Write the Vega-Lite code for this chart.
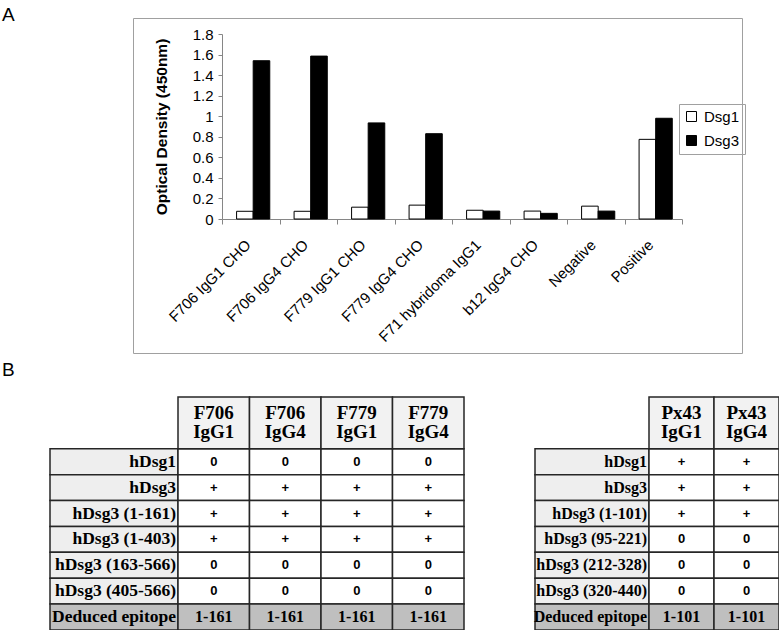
{
  "$schema": "https://vega.github.io/schema/vega-lite/v6.json",
  "background": "white",
  "padding": {"left": 1, "top": 5, "right": 0, "bottom": 0},
  "columns": 1,
  "align": "none",
  "bounds": "full",
  "spacing": 7,
  "config": {"view": {"stroke": null}, "font": "Liberation Sans"},
  "datasets": {
    "bars": [
      {"sample": "F706 IgG1 CHO", "antigen": "Dsg1", "od": 0.075},
      {"sample": "F706 IgG1 CHO", "antigen": "Dsg3", "od": 1.54},
      {"sample": "F706 IgG4 CHO", "antigen": "Dsg1", "od": 0.075},
      {"sample": "F706 IgG4 CHO", "antigen": "Dsg3", "od": 1.585},
      {"sample": "F779 IgG1 CHO", "antigen": "Dsg1", "od": 0.115},
      {"sample": "F779 IgG1 CHO", "antigen": "Dsg3", "od": 0.935},
      {"sample": "F779 IgG4 CHO", "antigen": "Dsg1", "od": 0.135},
      {"sample": "F779 IgG4 CHO", "antigen": "Dsg3", "od": 0.83},
      {"sample": "F71 hybridoma IgG1", "antigen": "Dsg1", "od": 0.085},
      {"sample": "F71 hybridoma IgG1", "antigen": "Dsg3", "od": 0.077},
      {"sample": "b12 IgG4 CHO", "antigen": "Dsg1", "od": 0.077},
      {"sample": "b12 IgG4 CHO", "antigen": "Dsg3", "od": 0.055},
      {"sample": "Negative", "antigen": "Dsg1", "od": 0.125},
      {"sample": "Negative", "antigen": "Dsg3", "od": 0.077},
      {"sample": "Positive", "antigen": "Dsg1", "od": 0.775},
      {"sample": "Positive", "antigen": "Dsg3", "od": 0.98}
    ],
    "t1rows": [
      {"tbl": "T1", "row": "hDsg1"},
      {"tbl": "T1", "row": "hDsg3"},
      {"tbl": "T1", "row": "hDsg3 (1-161)"},
      {"tbl": "T1", "row": "hDsg3 (1-403)"},
      {"tbl": "T1", "row": "hDsg3 (163-566)"},
      {"tbl": "T1", "row": "hDsg3 (405-566)"},
      {"tbl": "T1", "row": "Deduced epitope"}
    ],
    "t1head": [
      {"tbl": "T1", "col": "F706 IgG1", "ab": "F706", "iso": "IgG1"},
      {"tbl": "T1", "col": "F706 IgG4", "ab": "F706", "iso": "IgG4"},
      {"tbl": "T1", "col": "F779 IgG1", "ab": "F779", "iso": "IgG1"},
      {"tbl": "T1", "col": "F779 IgG4", "ab": "F779", "iso": "IgG4"}
    ],
    "t1body": [
      {"row": "hDsg1", "col": "F706 IgG1", "val": "0"},
      {"row": "hDsg1", "col": "F706 IgG4", "val": "0"},
      {"row": "hDsg1", "col": "F779 IgG1", "val": "0"},
      {"row": "hDsg1", "col": "F779 IgG4", "val": "0"},
      {"row": "hDsg3", "col": "F706 IgG1", "val": "+"},
      {"row": "hDsg3", "col": "F706 IgG4", "val": "+"},
      {"row": "hDsg3", "col": "F779 IgG1", "val": "+"},
      {"row": "hDsg3", "col": "F779 IgG4", "val": "+"},
      {"row": "hDsg3 (1-161)", "col": "F706 IgG1", "val": "+"},
      {"row": "hDsg3 (1-161)", "col": "F706 IgG4", "val": "+"},
      {"row": "hDsg3 (1-161)", "col": "F779 IgG1", "val": "+"},
      {"row": "hDsg3 (1-161)", "col": "F779 IgG4", "val": "+"},
      {"row": "hDsg3 (1-403)", "col": "F706 IgG1", "val": "+"},
      {"row": "hDsg3 (1-403)", "col": "F706 IgG4", "val": "+"},
      {"row": "hDsg3 (1-403)", "col": "F779 IgG1", "val": "+"},
      {"row": "hDsg3 (1-403)", "col": "F779 IgG4", "val": "+"},
      {"row": "hDsg3 (163-566)", "col": "F706 IgG1", "val": "0"},
      {"row": "hDsg3 (163-566)", "col": "F706 IgG4", "val": "0"},
      {"row": "hDsg3 (163-566)", "col": "F779 IgG1", "val": "0"},
      {"row": "hDsg3 (163-566)", "col": "F779 IgG4", "val": "0"},
      {"row": "hDsg3 (405-566)", "col": "F706 IgG1", "val": "0"},
      {"row": "hDsg3 (405-566)", "col": "F706 IgG4", "val": "0"},
      {"row": "hDsg3 (405-566)", "col": "F779 IgG1", "val": "0"},
      {"row": "hDsg3 (405-566)", "col": "F779 IgG4", "val": "0"},
      {"row": "Deduced epitope", "col": "F706 IgG1", "val": "1-161"},
      {"row": "Deduced epitope", "col": "F706 IgG4", "val": "1-161"},
      {"row": "Deduced epitope", "col": "F779 IgG1", "val": "1-161"},
      {"row": "Deduced epitope", "col": "F779 IgG4", "val": "1-161"}
    ],
    "t2rows": [
      {"tbl": "T2", "row": "hDsg1"},
      {"tbl": "T2", "row": "hDsg3"},
      {"tbl": "T2", "row": "hDsg3 (1-101)"},
      {"tbl": "T2", "row": "hDsg3 (95-221)"},
      {"tbl": "T2", "row": "hDsg3 (212-328)"},
      {"tbl": "T2", "row": "hDsg3 (320-440)"},
      {"tbl": "T2", "row": "Deduced epitope"}
    ],
    "t2head": [
      {"tbl": "T2", "col": "Px43 IgG1", "ab": "Px43", "iso": "IgG1"},
      {"tbl": "T2", "col": "Px43 IgG4", "ab": "Px43", "iso": "IgG4"}
    ],
    "t2body": [
      {"row": "hDsg1", "col": "Px43 IgG1", "val": "+"},
      {"row": "hDsg1", "col": "Px43 IgG4", "val": "+"},
      {"row": "hDsg3", "col": "Px43 IgG1", "val": "+"},
      {"row": "hDsg3", "col": "Px43 IgG4", "val": "+"},
      {"row": "hDsg3 (1-101)", "col": "Px43 IgG1", "val": "+"},
      {"row": "hDsg3 (1-101)", "col": "Px43 IgG4", "val": "+"},
      {"row": "hDsg3 (95-221)", "col": "Px43 IgG1", "val": "0"},
      {"row": "hDsg3 (95-221)", "col": "Px43 IgG4", "val": "0"},
      {"row": "hDsg3 (212-328)", "col": "Px43 IgG1", "val": "0"},
      {"row": "hDsg3 (212-328)", "col": "Px43 IgG4", "val": "0"},
      {"row": "hDsg3 (320-440)", "col": "Px43 IgG1", "val": "0"},
      {"row": "hDsg3 (320-440)", "col": "Px43 IgG4", "val": "0"},
      {"row": "Deduced epitope", "col": "Px43 IgG1", "val": "1-101"},
      {"row": "Deduced epitope", "col": "Px43 IgG4", "val": "1-101"}
    ]
  },
  "concat": [
    {
      "spacing": 0,
      "bounds": "flush",
      "hconcat": [
        {
          "width": 83, "height": 335,
          "data": {"values": []},
          "mark": {"type": "rect", "opacity": 0}
        },
        {
          "title": {"text": "A", "anchor": "start", "frame": "group", "orient": "top", "fontSize": 19, "fontWeight": "normal", "font": "Liberation Sans", "color": "black", "baseline": "alphabetic", "offset": -22, "dx": -131},
          "width": 609,
          "height": 335,
          "view": {"stroke": "#a0a0a0", "strokeWidth": 1},
          "data": {"name": "bars"},
          "mark": {"type": "bar", "stroke": "black", "strokeWidth": 1},
          "encoding": {
            "x": {
              "field": "sample", "type": "nominal",
              "sort": ["F706 IgG1 CHO", "F706 IgG4 CHO", "F779 IgG1 CHO", "F779 IgG4 CHO", "F71 hybridoma IgG1", "b12 IgG4 CHO", "Negative", "Positive"],
              "scale": {"range": [89, 549], "paddingInner": 0, "paddingOuter": 0},
              "axis": {"offset": -134, "domain": true, "domainColor": "#868686", "grid": false, "tickBand": "extent", "tickSize": 5, "tickColor": "#868686", "labelAngle": -45, "labelAlign": "right", "labelBaseline": "middle", "labelFontSize": 15, "labelFont": "Liberation Sans", "labelColor": "black", "labelPadding": 18, "labelOffset": -3, "labelOverlap": false, "labelLimit": 0, "title": null}
            },
            "xOffset": {"field": "antigen", "type": "nominal", "scale": {"paddingInner": 0, "paddingOuter": 0.732, "align": 0.6}},
            "y": {
              "field": "od", "type": "quantitative",
              "scale": {"domain": [0, 1.8], "range": [201, 16], "nice": false, "zero": false},
              "axis": {"values": [0, 0.2, 0.4, 0.6, 0.8, 1, 1.2, 1.4, 1.6, 1.8], "format": "~g", "offset": -89, "domain": true, "domainColor": "#868686", "grid": false, "tickSize": 4, "tickColor": "#868686", "labelFontSize": 15, "labelFont": "Liberation Sans", "labelColor": "black", "labelPadding": 5, "labelOverlap": false, "labelFlush": false, "title": "Optical Density (450nm)", "titleFont": "Liberation Sans", "titleFontSize": 15.5, "titleFontWeight": "bold", "titleColor": "black", "titleX": -61, "titleAngle": -90, "titleAlign": "center", "titleBaseline": "middle"}
            },
            "fill": {
              "field": "antigen", "type": "nominal",
              "scale": {"domain": ["Dsg1", "Dsg3"], "range": ["white", "black"]},
              "legend": {"title": null, "orient": "none", "legendX": 629, "legendY": 86, "direction": "vertical", "symbolType": "square", "symbolSize": 100, "symbolStrokeColor": "black", "symbolStrokeWidth": 1, "labelFontSize": 15, "labelFont": "Liberation Sans", "labelColor": "black", "strokeColor": "#a0a0a0", "padding": 5, "rowPadding": 8, "labelOffset": 5}
            }
          }
        }
      ]
    },
    {
      "title": {"text": "B", "anchor": "start", "frame": "group", "orient": "top", "fontSize": 19, "fontWeight": "normal", "font": "Liberation Sans", "color": "black", "baseline": "alphabetic", "offset": 1, "dx": -48},
      "spacing": 68,
      "hconcat": [
        {
          "spacing": 0,
          "bounds": "flush",
          "hconcat": [
            {
              "width": 128, "height": 233,
              "data": {"name": "t1rows"},
              "encoding": {
                "x": {"field": "tbl", "type": "nominal", "scale": {"paddingInner": 0, "paddingOuter": 0}, "axis": null},
                "y": {"field": "row", "type": "nominal", "sort": ["hDsg1", "hDsg3", "hDsg3 (1-161)", "hDsg3 (1-403)", "hDsg3 (163-566)", "hDsg3 (405-566)", "Deduced epitope"], "scale": {"range": [51.78, 233], "paddingInner": 0, "paddingOuter": 0}, "axis": null}
              },
              "layer": [
                {"mark": {"type": "rect", "stroke": "#262626", "strokeWidth": 1.5},
                 "encoding": {"fill": {"condition": {"test": "datum.row === 'Deduced epitope'", "value": "#bfbfbf"}, "value": "#eeeeee"}}},
                {"mark": {"type": "text", "align": "right", "baseline": "middle", "dx": -2, "font": "Liberation Serif", "fontWeight": "bold", "fontSize": 17.5, "color": "black"},
                 "encoding": {"x": {"field": "tbl", "type": "nominal", "bandPosition": 1, "axis": null}, "text": {"field": "row"}}}
              ]
            },
            {
              "width": 286, "height": 233,
              "resolve": {"scale": {"y": "independent"}},
              "layer": [
                {
                  "data": {"name": "t1body"},
                  "encoding": {
                    "x": {"field": "col", "type": "nominal", "sort": ["F706 IgG1", "F706 IgG4", "F779 IgG1", "F779 IgG4"], "scale": {"paddingInner": 0, "paddingOuter": 0}, "axis": null},
                    "y": {"field": "row", "type": "nominal", "sort": ["hDsg1", "hDsg3", "hDsg3 (1-161)", "hDsg3 (1-403)", "hDsg3 (163-566)", "hDsg3 (405-566)", "Deduced epitope"], "scale": {"range": [51.78, 233], "paddingInner": 0, "paddingOuter": 0}, "axis": null}
                  },
                  "layer": [
                    {"mark": {"type": "rect", "stroke": "#262626", "strokeWidth": 1.5},
                     "encoding": {"fill": {"condition": {"test": "datum.row === 'Deduced epitope'", "value": "#bfbfbf"}, "value": "white"}}},
                    {"transform": [{"filter": "datum.row !== 'Deduced epitope'"}],
                     "mark": {"type": "text", "font": "Liberation Sans", "fontWeight": "bold", "fontSize": 13, "baseline": "middle", "color": "black"},
                     "encoding": {"text": {"field": "val"}}},
                    {"transform": [{"filter": "datum.row === 'Deduced epitope'"}],
                     "mark": {"type": "text", "font": "Liberation Serif", "fontWeight": "bold", "fontSize": 16, "baseline": "middle", "color": "black"},
                     "encoding": {"text": {"field": "val"}}}
                  ]
                },
                {
                  "data": {"name": "t1head"},
                  "encoding": {
                    "x": {"field": "col", "type": "nominal", "sort": ["F706 IgG1", "F706 IgG4", "F779 IgG1", "F779 IgG4"], "scale": {"paddingInner": 0, "paddingOuter": 0}, "axis": null},
                    "y": {"field": "tbl", "type": "nominal", "scale": {"range": [0, 51.78], "paddingInner": 0, "paddingOuter": 0}, "axis": null}
                  },
                  "layer": [
                    {"mark": {"type": "rect", "stroke": "#262626", "strokeWidth": 1.5, "fill": "#f2f2f2"}},
                    {"mark": {"type": "text", "font": "Liberation Serif", "fontWeight": "bold", "fontSize": 19, "baseline": "middle", "dy": -10, "color": "black"},
                     "encoding": {"text": {"field": "ab"}}},
                    {"mark": {"type": "text", "font": "Liberation Serif", "fontWeight": "bold", "fontSize": 19, "baseline": "middle", "dy": 9, "color": "black"},
                     "encoding": {"text": {"field": "iso"}}}
                  ]
                }
              ]
            }
          ]
        },
        {
          "spacing": 0,
          "bounds": "flush",
          "hconcat": [
            {
              "width": 114, "height": 233,
              "data": {"name": "t2rows"},
              "encoding": {
                "x": {"field": "tbl", "type": "nominal", "scale": {"paddingInner": 0, "paddingOuter": 0}, "axis": null},
                "y": {"field": "row", "type": "nominal", "sort": ["hDsg1", "hDsg3", "hDsg3 (1-101)", "hDsg3 (95-221)", "hDsg3 (212-328)", "hDsg3 (320-440)", "Deduced epitope"], "scale": {"range": [51.78, 233], "paddingInner": 0, "paddingOuter": 0}, "axis": null}
              },
              "layer": [
                {"mark": {"type": "rect", "stroke": "#262626", "strokeWidth": 1.5},
                 "encoding": {"fill": {"condition": {"test": "datum.row === 'Deduced epitope'", "value": "#bfbfbf"}, "value": "#eeeeee"}}},
                {"mark": {"type": "text", "align": "right", "baseline": "middle", "dx": -2, "font": "Liberation Serif", "fontWeight": "bold", "fontSize": 16, "color": "black"},
                 "encoding": {"x": {"field": "tbl", "type": "nominal", "bandPosition": 1, "axis": null}, "text": {"field": "row"}}}
              ]
            },
            {
              "width": 130, "height": 233,
              "resolve": {"scale": {"y": "independent"}},
              "layer": [
                {
                  "data": {"name": "t2body"},
                  "encoding": {
                    "x": {"field": "col", "type": "nominal", "sort": ["Px43 IgG1", "Px43 IgG4"], "scale": {"paddingInner": 0, "paddingOuter": 0}, "axis": null},
                    "y": {"field": "row", "type": "nominal", "sort": ["hDsg1", "hDsg3", "hDsg3 (1-101)", "hDsg3 (95-221)", "hDsg3 (212-328)", "hDsg3 (320-440)", "Deduced epitope"], "scale": {"range": [51.78, 233], "paddingInner": 0, "paddingOuter": 0}, "axis": null}
                  },
                  "layer": [
                    {"mark": {"type": "rect", "stroke": "#262626", "strokeWidth": 1.5},
                     "encoding": {"fill": {"condition": {"test": "datum.row === 'Deduced epitope'", "value": "#bfbfbf"}, "value": "white"}}},
                    {"transform": [{"filter": "datum.row !== 'Deduced epitope'"}],
                     "mark": {"type": "text", "font": "Liberation Sans", "fontWeight": "bold", "fontSize": 13, "baseline": "middle", "color": "black"},
                     "encoding": {"text": {"field": "val"}}},
                    {"transform": [{"filter": "datum.row === 'Deduced epitope'"}],
                     "mark": {"type": "text", "font": "Liberation Serif", "fontWeight": "bold", "fontSize": 16, "baseline": "middle", "color": "black"},
                     "encoding": {"text": {"field": "val"}}}
                  ]
                },
                {
                  "data": {"name": "t2head"},
                  "encoding": {
                    "x": {"field": "col", "type": "nominal", "sort": ["Px43 IgG1", "Px43 IgG4"], "scale": {"paddingInner": 0, "paddingOuter": 0}, "axis": null},
                    "y": {"field": "tbl", "type": "nominal", "scale": {"range": [0, 51.78], "paddingInner": 0, "paddingOuter": 0}, "axis": null}
                  },
                  "layer": [
                    {"mark": {"type": "rect", "stroke": "#262626", "strokeWidth": 1.5, "fill": "#f2f2f2"}},
                    {"mark": {"type": "text", "font": "Liberation Serif", "fontWeight": "bold", "fontSize": 19, "baseline": "middle", "dy": -10, "color": "black"},
                     "encoding": {"text": {"field": "ab"}}},
                    {"mark": {"type": "text", "font": "Liberation Serif", "fontWeight": "bold", "fontSize": 19, "baseline": "middle", "dy": 9, "color": "black"},
                     "encoding": {"text": {"field": "iso"}}}
                  ]
                }
              ]
            }
          ]
        }
      ]
    }
  ]
}
